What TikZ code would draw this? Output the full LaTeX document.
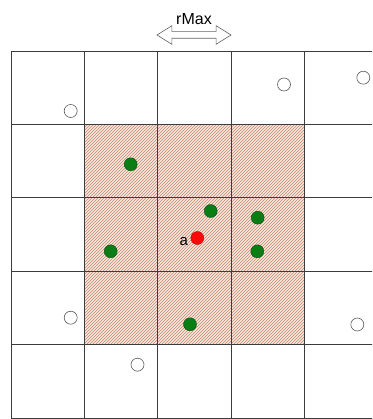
\documentclass[tikz,border=0pt]{standalone}
\usepackage{fontspec}
\setmainfont{Liberation Sans}
\usetikzlibrary{positioning, shapes.arrows, patterns}
\definecolor{gridline}{RGB}{60, 60, 60}
\definecolor{hatchbg}{RGB}{244, 232, 222}
\definecolor{hatchln}{RGB}{200, 135, 112}
\definecolor{neighbour}{RGB}{10, 125, 20}
\definecolor{centre}{RGB}{250, 10, 10}

\begin{document}
\begin{tikzpicture}[
  x=1pt, y=-1pt,
  dot/.style={circle, minimum size=13pt, inner sep=0pt, draw},
  far/.style={dot, draw=black!65, fill=white, line width=0.6pt},
  near/.style={dot, draw=neighbour!60!black, fill=neighbour},
]
  \clip (0,0) rectangle (372,419);

  % Search region (3x3 cells round a)
  \fill[hatchbg] (84.3,124.4) rectangle (304.3,344.6);
  \fill[pattern=north east lines, pattern color=hatchln] (84.3,124.4) rectangle (304.3,344.6);

  % Cell grid
  \foreach \i in {0,...,5} {
    \draw[gridline, line width=0.7pt] (11+73.35*\i, 51) -- (11+73.35*\i, 418);
    \draw[gridline, line width=0.7pt] (11, 51+73.4*\i) -- (390, 51+73.4*\i);
  }

  % Range arrow
  \node[double arrow, draw=black!60, fill=white, line width=0.6pt, inner sep=3pt,
        minimum height=74pt, minimum width=18pt, double arrow head extend=6pt,
        double arrow tip angle=64] (range) at (194,35) {};
  \node[font=\fontsize{16}{18}\selectfont, above=3pt of range] (rmax) {rMax};

  % Points out of range
  \node[far] (p1) at (70.7,111) {};
  \node[far] (p2) at (284,84.5) {};
  \node[far] (p3) at (363.3,77.7) {};
  \node[far] (p4) at (70.7,317.7) {};
  \node[far] (p5) at (357.3,324.5) {};
  \node[far] (p6) at (137.5,364.7) {};

  % Neighbours
  \node[near] (n1) at (130.7,164.3) {};
  \node[near] (n2) at (210.7,211) {};
  \node[near] (n3) at (257.7,217.7) {};
  \node[near] (n4) at (110.7,251.3) {};
  \node[near] (n5) at (257.3,251.3) {};
  \node[near] (n6) at (190,324.3) {};

  % Query point
  \node[dot, draw=centre!70!black, fill=centre] (a) at (197.3,238) {};
  \node[font=\fontsize{15}{17}\selectfont, left=-1pt of a, yshift=-4pt] (alabel) {a};

\end{tikzpicture}
\end{document}
